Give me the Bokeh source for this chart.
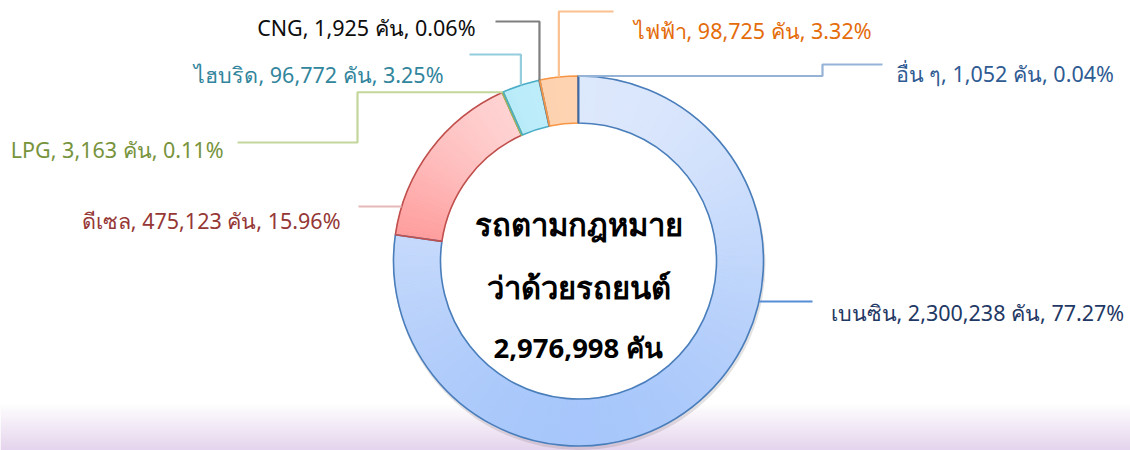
import math
import numpy as np
from bokeh.plotting import figure
from bokeh.models import Range1d
from bokeh.core.properties import value
from bokeh.embed import file_html
from bokeh.resources import INLINE

# ---------------- data ----------------
categories = ["เบนซิน", "ดีเซล", "LPG", "ไฮบริด", "CNG", "ไฟฟ้า", "อื่น ๆ"]
counts = [2300238, 475123, 3163, 96772, 1925, 98725, 1052]
percents = [77.27, 15.96, 0.11, 3.25, 0.06, 3.32, 0.04]
unit = "คัน"
center_title = ["รถตามกฎหมาย", "ว่าด้วยรถยนต์"]

# ---------------- styles ----------------
fill_top = ["#e0eafc", "#ffdcdc", "#c3d69b", "#cdf2fc", "#bfbfbf", "#fedcc0", "#dfe9fc"]
fill_bot = ["#a3c4fb", "#ff9b9b", "#c3d69b", "#a9e6f7", "#bfbfbf", "#fcc9a0", "#dfe9fc"]
strokes = ["#4a7ebb", "#c0504d", "#9bbb59", "#4bacc6", "#7f7f7f", "#f79646", "#3d6aa6"]
label_colors = ["#1f3864", "#953735", "#77933c", "#31859c", "#0d0d0d", "#e46c0a", "#2f5b93"]
leader_colors = ["#558ed5", "#e6b9b8", "#c3d69b", "#93cddd", "#7f7f7f", "#fac090", "#95b3d7"]
FONT = "Noto Sans"

# ---------------- layout (screen pixels) ----------------
W, H = 1130, 450
CX, CY = 578, 260.5
R_OUT, R_IN = 185, 138


def yd(Y):
    return H - Y


def hex2rgb(h):
    return np.array([int(h[i:i + 2], 16) for i in (1, 3, 5)], dtype=float)


def rgb2hex(c):
    c = np.clip(np.round(c), 0, 255).astype(int)
    return "#%02x%02x%02x" % tuple(c)


p = figure(width=W, height=H, output_backend="svg", toolbar_location=None,
           x_range=Range1d(0, W), y_range=Range1d(0, H),
           min_border=0, outline_line_color=None)
p.axis.visible = False
p.grid.visible = False
p.background_fill_color = "white"
p.border_fill_color = "white"

# bottom lavender gradient band
n = 60
top_c = np.array([255, 255, 255])
bot_c = np.array([229, 212, 237])
img = np.zeros((n, 1), dtype=np.uint32)
view = img.view(dtype=np.uint8).reshape((n, 1, 4))
for i in range(n):
    t = i / (n - 1)  # 0 bottom -> 1 top
    c = bot_c * (1 - t) + top_c * t
    view[i, 0, 0:3] = c.astype(np.uint8)
    view[i, 0, 3] = 255
p.image_rgba(image=[img], x=0, y=0, dw=W, dh=yd(403))

# shadow
p.annulus(x=CX + 1, y=yd(CY) - 3, inner_radius=R_IN + 4, outer_radius=R_OUT + 1,
          fill_color="#7f6f6f", fill_alpha=0.2, line_color=None)

# donut slices (clockwise from 12 o'clock)
total = sum(counts)
cum = np.concatenate([[0], np.cumsum(counts)]) / total
starts = [math.pi / 2 - 2 * math.pi * c for c in cum[:-1]]
ends = [math.pi / 2 - 2 * math.pi * c for c in cum[1:]]

# gradient fill: each slice painted in thin angular strips, coloured by height
sx, sy, ss, se, sc = [], [], [], [], []
for i in range(len(counts)):
    a0, a1 = 2 * math.pi * cum[i], 2 * math.pi * cum[i + 1]
    th = np.linspace(a0, a1, 200)
    ys = np.concatenate([CY - R_OUT * np.cos(th), CY - R_IN * np.cos(th)])
    ytop, ybot = ys.min(), ys.max()
    k = max(1, int(math.degrees(a1 - a0)))
    edges = np.linspace(a0, a1, k + 1)
    ct, cb = hex2rgb(fill_top[i]), hex2rgb(fill_bot[i])
    for j in range(k):
        m = (edges[j] + edges[j + 1]) / 2
        ym = CY - (R_OUT + R_IN) / 2 * math.cos(m)
        t = 0 if ybot - ytop < 1e-6 else (ym - ytop) / (ybot - ytop)
        sx.append(CX); sy.append(yd(CY))
        ss.append(math.pi / 2 - edges[j]); se.append(math.pi / 2 - edges[j + 1])
        sc.append(rgb2hex(ct * (1 - t) + cb * t))
p.annular_wedge(x=sx, y=sy, inner_radius=R_IN, outer_radius=R_OUT,
                start_angle=ss, end_angle=se, direction="clock",
                fill_color=sc, line_color=sc, line_width=0.7)
# slice outlines
p.annular_wedge(x=CX, y=yd(CY), inner_radius=R_IN, outer_radius=R_OUT,
                start_angle=starts, end_angle=ends, direction="clock",
                fill_color=None, line_color=strokes, line_width=1.6)


def mid_point(i):
    th = 2 * math.pi * (cum[i] + cum[i + 1]) / 2
    return CX + R_OUT * math.sin(th), CY - R_OUT * math.cos(th)


def edge_at(Y, side):
    dx = math.sqrt(R_OUT ** 2 - (Y - CY) ** 2)
    return (CX + side * dx, Y)


# leader lines (screen coordinates)
paths = []
a = edge_at(301, 1); paths.append([a, (812, 301)])                                  # benzin
a = edge_at(206, -1); paths.append([a, (358, 206)])                                 # diesel
a = mid_point(2); paths.append([a, (357, a[1]), (357, 142), (237, 142)])           # LPG
a = mid_point(3); paths.append([a, (a[0], 54), (469, 54)])                          # hybrid
a = mid_point(4); paths.append([a, (a[0], 21), (495, 21)])                          # CNG
a = mid_point(5); paths.append([a, (a[0], 11), (613, 11)])                          # electric
a = mid_point(6); paths.append([a, (822, a[1]), (822, 64), (882, 64)])             # others

for pts, col in zip(paths, leader_colors):
    p.line([q[0] for q in pts], [yd(q[1]) for q in pts], line_color=col, line_width=2.2)

# labels: (x, baseline Y, align)
label_pos = [(830, 312, "left"), (340, 220, "right"), (223, 149, "right"),
             (443, 74, "right"), (475, 27, "right"), (633, 30, "left"),
             (895, 73, "left")]
for i, (cat, cnt, pct) in enumerate(zip(categories, counts, percents)):
    txt = f"{cat}, {cnt:,} {unit}, {pct:.2f}%"
    x, Y, al = label_pos[i]
    p.text(x=[x], y=[yd(Y)], text=[txt], text_align=al, text_baseline="alphabetic",
           text_color=label_colors[i], text_font=value(FONT), text_font_size="21.5px")

# center text
p.text(x=[CX], y=[yd(223)], text=[center_title[0]], text_align="center",
       text_baseline="alphabetic", text_color="black", text_font=value(FONT),
       text_font_size="31px", text_font_style="bold")
p.text(x=[CX], y=[yd(286)], text=[center_title[1]], text_align="center",
       text_baseline="alphabetic", text_color="black", text_font=value(FONT),
       text_font_size="31px", text_font_style="bold")
p.text(x=[CX], y=[yd(347)], text=[f"{total:,} {unit}"], text_align="center",
       text_baseline="alphabetic", text_color="black", text_font=value(FONT),
       text_font_size="27.5px", text_font_style="bold")

open("out.html", "w").write(file_html(p, INLINE))
